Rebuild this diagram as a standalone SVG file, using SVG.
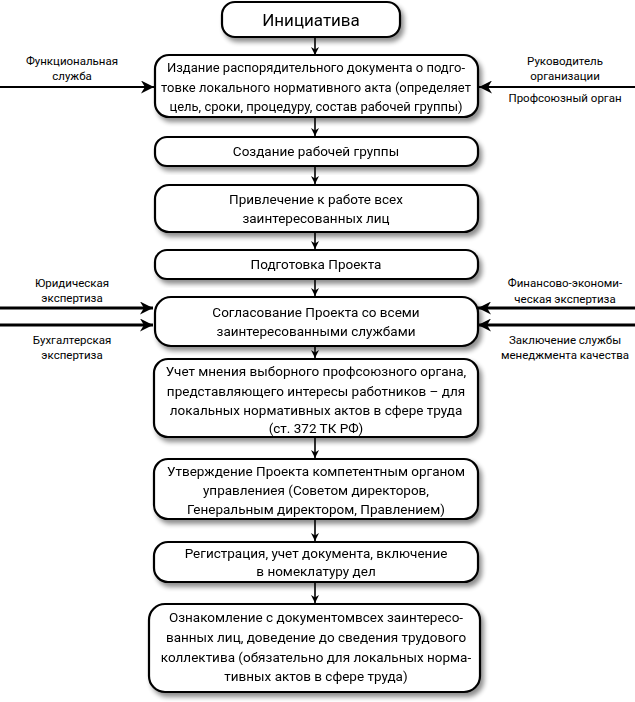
<svg xmlns="http://www.w3.org/2000/svg" width="635" height="702" viewBox="0 0 635 702">
<style>
.box{fill:#fff;stroke:#000;stroke-width:2.2}
.t{font-family:Roboto,"Noto Sans",sans-serif;font-size:13.5px;fill:#000;text-anchor:middle;dominant-baseline:central}
.n{font-size:13px}
.s{font-family:Roboto,"Noto Sans",sans-serif;font-size:11.5px;fill:#000;text-anchor:middle;dominant-baseline:central}
.c{stroke:#000;stroke-width:1.6;fill:none}
.h{stroke:#000;stroke-width:2.2;fill:none}
.hh{stroke:#000;stroke-width:3;fill:none}
</style>
<defs>
<filter id="sh" x="-10%" y="-20%" width="125%" height="150%">
<feGaussianBlur in="SourceAlpha" stdDeviation="2.5"/>
<feOffset dx="3" dy="4" result="b"/>
<feComponentTransfer><feFuncA type="linear" slope="0.45"/></feComponentTransfer>
<feMerge><feMergeNode/><feMergeNode in="SourceGraphic"/></feMerge>
</filter>
<marker id="a" viewBox="0 0 10 10" refX="10" refY="5" markerWidth="8" markerHeight="8" orient="auto" markerUnits="userSpaceOnUse"><path d="M0,0 L10,5 L0,10 L3,5 z" fill="#000"/></marker>
<marker id="b" viewBox="0 0 10 10" refX="10" refY="5" markerWidth="15" markerHeight="13" orient="auto" markerUnits="userSpaceOnUse"><path d="M0,0 L10,5 L0,10 L3,5 z" fill="#000"/></marker>
</defs>
<g id="connectors">
<line class="c" x1="315" y1="38" x2="315" y2="55" marker-end="url(#a)"/>
<line class="c" x1="315" y1="118" x2="315" y2="136" marker-end="url(#a)"/>
<line class="c" x1="315" y1="167" x2="315" y2="184" marker-end="url(#a)"/>
<line class="c" x1="315" y1="233" x2="315" y2="249" marker-end="url(#a)"/>
<line class="c" x1="315" y1="280" x2="315" y2="296" marker-end="url(#a)"/>
<line class="c" x1="315" y1="347" x2="315" y2="358" marker-end="url(#a)"/>
<line class="c" x1="315" y1="438" x2="315" y2="458" marker-end="url(#a)"/>
<line class="c" x1="315" y1="520" x2="315" y2="541" marker-end="url(#a)"/>
<line class="c" x1="315" y1="583" x2="315" y2="603" marker-end="url(#a)"/>
<line class="h" x1="0" y1="87" x2="154" y2="87" marker-end="url(#b)"/>
<line class="h" x1="635" y1="87" x2="479" y2="87" marker-end="url(#b)"/>
<line class="hh" x1="0" y1="308" x2="153" y2="308" marker-end="url(#b)"/>
<line class="hh" x1="0" y1="325" x2="153" y2="325" marker-end="url(#b)"/>
<line class="hh" x1="635" y1="308" x2="478" y2="308" marker-end="url(#b)"/>
<line class="hh" x1="635" y1="325" x2="478" y2="325" marker-end="url(#b)"/>
</g>
<g id="n1" filter="url(#sh)"><rect class="box" x="222" y="2" width="178" height="35" rx="13"/><text class="t" x="311" y="19.5" style="font-size:17px">Инициатива</text></g>
<g id="n2" filter="url(#sh)"><rect class="box" x="155" y="55" width="323" height="62" rx="14"/>
<text class="t n" x="316" y="67">Издание распорядительного документа о подго-</text>
<text class="t n" x="316" y="87">товке локального нормативного акта (определяет</text>
<text class="t n" x="316" y="106">цель, сроки, процедуру, состав рабочей группы)</text></g>
<g id="n3" filter="url(#sh)"><rect class="box" x="155" y="137" width="323" height="29" rx="12"/><text class="t" x="316" y="151">Создание рабочей группы</text></g>
<g id="n4" filter="url(#sh)"><rect class="box" x="155" y="185" width="323" height="47" rx="14"/>
<text class="t" x="316" y="199">Привлечение к работе всех</text>
<text class="t" x="316" y="218">заинтересованных лиц</text></g>
<g id="n5" filter="url(#sh)"><rect class="box" x="155" y="250" width="323" height="29" rx="12"/><text class="t" x="316" y="264">Подготовка Проекта</text></g>
<g id="n6" filter="url(#sh)"><rect class="box" x="155" y="297" width="323" height="49" rx="16"/>
<text class="t" x="316" y="312">Согласование Проекта со всеми</text>
<text class="t" x="316" y="331">заинтересованными службами</text></g>
<g id="n7" filter="url(#sh)"><rect class="box" x="154" y="359" width="324" height="78" rx="14"/>
<text class="t" x="316" y="371">Учет мнения выборного профсоюзного органа,</text>
<text class="t" x="316" y="391">представляющего интересы работников – для</text>
<text class="t" x="316" y="410">локальных нормативных актов в сфере труда</text>
<text class="t" x="316" y="428">(ст. 372 ТК РФ)</text></g>
<g id="n8" filter="url(#sh)"><rect class="box" x="154" y="459" width="324" height="60" rx="14"/>
<text class="t" x="316" y="471">Утверждение Проекта компетентным органом</text>
<text class="t" x="316" y="490">управлениея (Советом директоров,</text>
<text class="t" x="316" y="509">Генеральным директором, Правлением)</text></g>
<g id="n9" filter="url(#sh)"><rect class="box" x="154" y="542" width="324" height="40" rx="14"/>
<text class="t" x="316" y="553">Регистрация, учет документа, включение</text>
<text class="t" x="316" y="571">в номеклатуру дел</text></g>
<g id="n10" filter="url(#sh)"><rect class="box" x="149" y="604" width="331" height="88" rx="16"/>
<text class="t" x="316" y="617">Ознакомление с документомвсех заинтересо-</text>
<text class="t" x="316" y="637">ванных лиц, доведение до сведения трудового</text>
<text class="t" x="316" y="657">коллектива (обязательно для локальных норма-</text>
<text class="t" x="316" y="676">тивных актов в сфере труда)</text></g>
<g id="labels">
<text class="s" x="72" y="61">Функциональная</text>
<text class="s" x="72" y="76">служба</text>
<text class="s" x="565" y="61">Руководитель</text>
<text class="s" x="565" y="76">организации</text>
<text class="s" x="565" y="98">Профсоюзный орган</text>
<text class="s" x="72" y="283">Юридическая</text>
<text class="s" x="72" y="298">экспертиза</text>
<text class="s" x="72" y="340">Бухгалтерская</text>
<text class="s" x="72" y="355">экспертиза</text>
<text class="s" x="565" y="283">Финансово-экономи-</text>
<text class="s" x="565" y="299">ческая экспертиза</text>
<text class="s" x="565" y="340">Заключение службы</text>
<text class="s" x="565" y="355">менеджмента качества</text>
</g>
</svg>
